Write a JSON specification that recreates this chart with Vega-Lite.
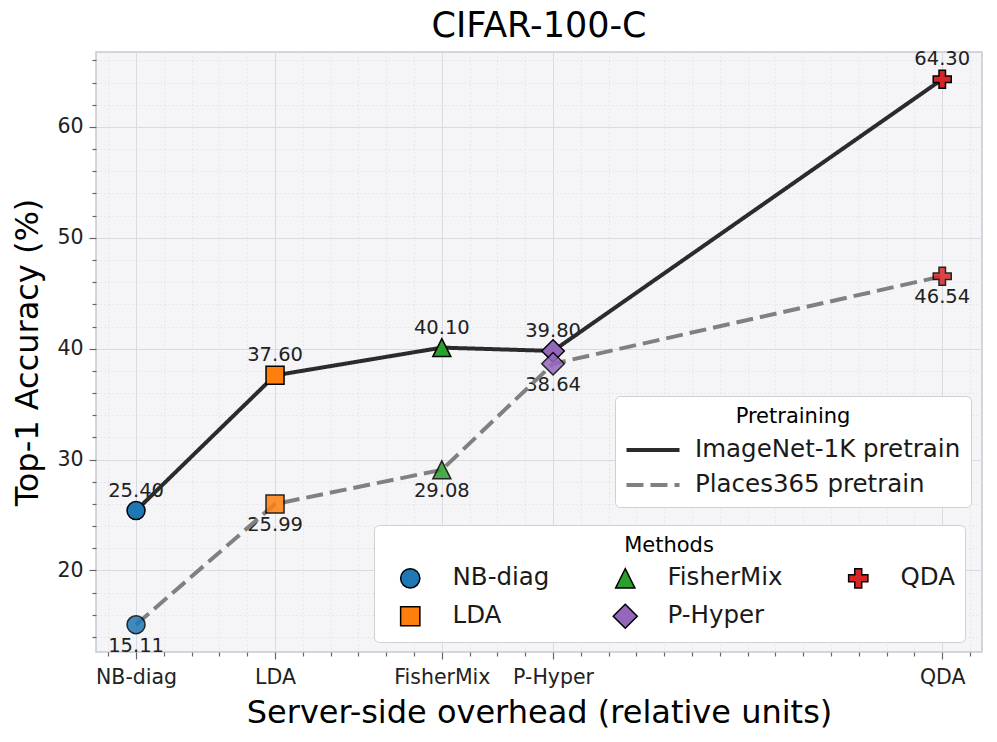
{
  "$schema": "https://vega.github.io/schema/vega-lite/v6.json",
  "width": 886,
  "height": 600,
  "autosize": {"type": "none"},
  "padding": {"left": 96, "top": 52, "right": 15, "bottom": 90},
  "background": "white",
  "title": {"text": "CIFAR-100-C", "fontSize": 35, "font": "DejaVu Sans", "fontWeight": "normal", "color": "black", "offset": 5},
  "data": {"values": [
    {"method": "NB-diag", "overhead": 1, "pretrain": "ImageNet-1K pretrain", "acc": 25.40},
    {"method": "LDA", "overhead": 2, "pretrain": "ImageNet-1K pretrain", "acc": 37.60},
    {"method": "FisherMix", "overhead": 3.2, "pretrain": "ImageNet-1K pretrain", "acc": 40.10},
    {"method": "P-Hyper", "overhead": 4, "pretrain": "ImageNet-1K pretrain", "acc": 39.80},
    {"method": "QDA", "overhead": 6.8, "pretrain": "ImageNet-1K pretrain", "acc": 64.30},
    {"method": "NB-diag", "overhead": 1, "pretrain": "Places365 pretrain", "acc": 15.11},
    {"method": "LDA", "overhead": 2, "pretrain": "Places365 pretrain", "acc": 25.99},
    {"method": "FisherMix", "overhead": 3.2, "pretrain": "Places365 pretrain", "acc": 29.08},
    {"method": "P-Hyper", "overhead": 4, "pretrain": "Places365 pretrain", "acc": 38.64},
    {"method": "QDA", "overhead": 6.8, "pretrain": "Places365 pretrain", "acc": 46.54}
  ]},
  "encoding": {
    "x": {
      "field": "overhead", "type": "quantitative",
      "scale": {"domain": [0.712, 7.086], "nice": false, "zero": false},
      "axis": {
        "title": "Server-side overhead (relative units)",
        "values": [0.8, 1, 1.2, 1.4, 1.6, 1.8, 2, 2.2, 2.4, 2.6, 2.8, 3, 3.2, 3.4, 3.6, 3.8, 4, 4.2, 4.4, 4.6, 4.8, 5, 5.2, 5.4, 5.6, 5.8, 6, 6.2, 6.4, 6.6, 6.8, 7],
        "labelExpr": "datum.value == 1 ? 'NB-diag' : datum.value == 2 ? 'LDA' : datum.value == 3.2 ? 'FisherMix' : datum.value == 4 ? 'P-Hyper' : datum.value == 6.8 ? 'QDA' : ''",
        "gridDash": {"condition": {"test": "datum.value == 1 || datum.value == 2 || datum.value == 3.2 || datum.value == 4 || datum.value == 6.8", "value": []}, "value": [1.5, 2.5]},
        "gridColor": {"condition": {"test": "datum.value == 1 || datum.value == 2 || datum.value == 3.2 || datum.value == 4 || datum.value == 6.8", "value": "#dadae2"}, "value": "#e2e2e9"},
        "tickSize": {"condition": {"test": "datum.value == 1 || datum.value == 2 || datum.value == 3.2 || datum.value == 4 || datum.value == 6.8", "value": 7}, "value": 4},
        "labelFlush": false,
        "labelPadding": 8,
        "titlePadding": 10
      }
    },
    "y": {
      "field": "acc", "type": "quantitative",
      "scale": {"domain": [12.65, 66.76], "nice": false, "zero": false},
      "axis": {
        "title": "Top-1 Accuracy (%)",
        "values": [14, 16, 18, 20, 22, 24, 26, 28, 30, 32, 34, 36, 38, 40, 42, 44, 46, 48, 50, 52, 54, 56, 58, 60, 62, 64, 66],
        "labelExpr": "datum.value % 10 == 0 ? datum.label : ''",
        "gridDash": {"condition": {"test": "datum.value % 10 == 0", "value": []}, "value": [1.5, 2.5]},
        "gridColor": {"condition": {"test": "datum.value % 10 == 0", "value": "#dadae2"}, "value": "#e2e2e9"},
        "tickSize": {"condition": {"test": "datum.value % 10 == 0", "value": 7}, "value": 4},
        "labelPadding": 6,
        "titlePadding": 12
      }
    }
  },
  "layer": [
    {
      "transform": [{"filter": "datum.pretrain == 'ImageNet-1K pretrain'"}],
      "mark": {"type": "text", "dy": -20, "fontSize": 19.5, "font": "DejaVu Sans", "color": "#222222"},
      "encoding": {"text": {"field": "acc", "type": "quantitative", "format": ".2f"}}
    },
    {
      "transform": [{"filter": "datum.pretrain == 'Places365 pretrain'"}],
      "mark": {"type": "text", "dy": 21, "fontSize": 19.5, "font": "DejaVu Sans", "color": "#222222"},
      "encoding": {"text": {"field": "acc", "type": "quantitative", "format": ".2f"}}
    },
    {
      "transform": [{"filter": "datum.pretrain == 'ImageNet-1K pretrain'"}],
      "mark": {"type": "line", "strokeWidth": 4},
      "encoding": {
        "stroke": {"field": "pretrain", "type": "nominal",
          "scale": {"domain": ["ImageNet-1K pretrain", "Places365 pretrain"], "range": ["#2b2b2b", "#808080"]},
          "legend": {"title": "Pretraining", "orient": "none", "legendX": 519, "legendY": 344, "symbolType": "M-2.5,0L2.5,0", "symbolSize": 450, "symbolStrokeWidth": 4, "symbolOffset": 15, "labelOffset": 29, "padding": 10, "rowPadding": 10, "titlePadding": 10}},
        "strokeDash": {"field": "pretrain", "type": "nominal",
          "scale": {"domain": ["ImageNet-1K pretrain", "Places365 pretrain"], "range": [[1, 0], [17, 7]]},
          "legend": {"title": "Pretraining", "orient": "none", "legendX": 519, "legendY": 344, "symbolType": "M-2.5,0L2.5,0", "symbolSize": 450, "symbolStrokeWidth": 4, "symbolOffset": 15, "labelOffset": 29, "padding": 10, "rowPadding": 10, "titlePadding": 10}}
      }
    },
    {
      "transform": [{"filter": "datum.pretrain == 'ImageNet-1K pretrain'"}],
      "mark": {"type": "point", "filled": true, "stroke": "black", "strokeWidth": 1.5, "size": 324, "opacity": 1},
      "encoding": {
        "fill": {"field": "method", "type": "nominal",
          "scale": {"domain": ["NB-diag", "LDA", "FisherMix", "P-Hyper", "QDA"], "range": ["#1f77b4", "#ff7f0e", "#2ca02c", "#9467bd", "#d62728"]},
          "legend": {"title": "Methods", "orient": "none", "legendX": 278, "legendY": 473, "columns": 3, "symbolSize": 370, "symbolStrokeColor": "black", "symbolStrokeWidth": 1.5, "symbolOffset": 14, "labelOffset": 30, "columnPadding": 49, "padding": 10, "rowPadding": 10, "titlePadding": 10,
            "encoding": {"symbols": {"stroke": {"value": "black"}, "strokeWidth": {"value": 1.5}, "opacity": {"value": 1}}}}},
        "shape": {"field": "method", "type": "nominal",
          "scale": {"domain": ["NB-diag", "LDA", "FisherMix", "P-Hyper", "QDA"], "range": [
            "M1,0A1,1,0,1,1,-1,0A1,1,0,1,1,1,0Z",
            "M-1,-1L1,-1L1,1L-1,1Z",
            "M0,-1L1,1L-1,1Z",
            "M0,-1.25L1.25,0L0,1.25L-1.25,0Z",
            "M-0.36,-1L0.36,-1L0.36,-0.36L1,-0.36L1,0.36L0.36,0.36L0.36,1L-0.36,1L-0.36,0.36L-1,0.36L-1,-0.36L-0.36,-0.36Z"
          ]},
          "legend": {"title": "Methods", "orient": "none", "legendX": 278, "legendY": 473, "columns": 3, "symbolSize": 370, "symbolStrokeColor": "black", "symbolStrokeWidth": 1.5, "symbolOffset": 14, "labelOffset": 30, "columnPadding": 49, "padding": 10, "rowPadding": 10, "titlePadding": 10,
            "encoding": {"symbols": {"stroke": {"value": "black"}, "strokeWidth": {"value": 1.5}, "opacity": {"value": 1}}}}}
      }
    },
    {
      "transform": [{"filter": "datum.pretrain == 'Places365 pretrain'"}],
      "mark": {"type": "line", "strokeWidth": 4},
      "encoding": {
        "stroke": {"field": "pretrain", "type": "nominal"},
        "strokeDash": {"field": "pretrain", "type": "nominal"}
      }
    },
    {
      "transform": [{"filter": "datum.pretrain == 'Places365 pretrain'"}],
      "mark": {"type": "point", "filled": true, "stroke": "black", "strokeWidth": 1.5, "size": 324, "opacity": 0.85},
      "encoding": {
        "fill": {"field": "method", "type": "nominal"},
        "shape": {"field": "method", "type": "nominal"}
      }
    }
  ],
  "config": {
    "font": "DejaVu Sans",
    "view": {"fill": "#f5f5f8", "stroke": "#c8c8d1", "strokeWidth": 1.5},
    "axis": {
      "labelFont": "DejaVu Sans", "labelFontSize": 20.5, "labelColor": "#222222",
      "titleFont": "DejaVu Sans", "titleFontSize": 32, "titleFontWeight": "normal", "titleColor": "black",
      "domain": false, "tickColor": "#666666", "tickWidth": 1.2, "gridWidth": 1, "labelOverlap": false, "labelBound": false
    },
    "legend": {
      "labelFont": "DejaVu Sans", "labelFontSize": 24.5, "labelColor": "#1a1a1a", "labelLimit": 500,
      "titleFont": "DejaVu Sans", "titleFontSize": 21, "titleFontWeight": "normal", "titleColor": "black",
      "titleAnchor": "middle",
      "fillColor": "white", "strokeColor": "#d0d0d0", "cornerRadius": 5
    }
  }
}
